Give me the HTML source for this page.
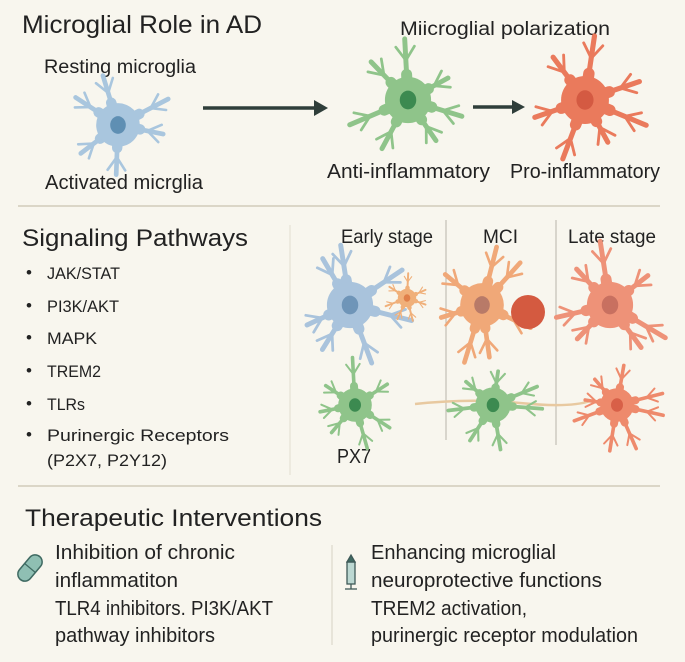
<!DOCTYPE html>
<html><head><meta charset="utf-8"><style>
html,body{margin:0;padding:0;background:#f8f6ee;}
svg{display:block}
text{font-family:"Liberation Sans",sans-serif;fill:#222;}
</style></head><body>
<svg id="s" width="685" height="662" viewBox="0 0 685 662" xmlns="http://www.w3.org/2000/svg">
<rect width="685" height="662" fill="#f8f6ee"/>
<text x="22" y="33" font-size="25" textLength="240" lengthAdjust="spacingAndGlyphs">Microglial Role in AD</text>
<text x="400" y="35" font-size="19" textLength="210" lengthAdjust="spacingAndGlyphs">Miicroglial polarization</text>
<text x="44" y="73" font-size="19" textLength="152" lengthAdjust="spacingAndGlyphs">Resting microglia</text>
<text x="45" y="189" font-size="20" textLength="158" lengthAdjust="spacingAndGlyphs">Activated micrglia</text>
<text x="327" y="178" font-size="20" textLength="163" lengthAdjust="spacingAndGlyphs">Anti-inflammatory</text>
<text x="510" y="178" font-size="20" textLength="150" lengthAdjust="spacingAndGlyphs">Pro-inflammatory</text>
<g stroke="#2f3e3a" stroke-width="3.5" fill="#2f3e3a">
<line x1="203" y1="108" x2="316" y2="108"/><polygon points="314,100 328,108 314,116" stroke="none"/>
<line x1="473" y1="107" x2="514" y2="107"/><polygon points="512,100 525,107 512,114" stroke="none"/>
</g>
<line x1="18" y1="206" x2="660" y2="206" stroke="#c9c2b0" stroke-width="1.2"/>
<text x="22" y="246" font-size="24" textLength="226" lengthAdjust="spacingAndGlyphs">Signaling Pathways</text>
<g font-size="17">
<text x="26" y="278">•</text><text x="47" y="279" textLength="73" lengthAdjust="spacingAndGlyphs">JAK/STAT</text>
<text x="26" y="311">•</text><text x="47" y="312" textLength="72" lengthAdjust="spacingAndGlyphs">PI3K/AKT</text>
<text x="26" y="343">•</text><text x="47" y="344" textLength="50" lengthAdjust="spacingAndGlyphs">MAPK</text>
<text x="26" y="376">•</text><text x="47" y="377" textLength="54" lengthAdjust="spacingAndGlyphs">TREM2</text>
<text x="26" y="409">•</text><text x="47" y="410" textLength="38" lengthAdjust="spacingAndGlyphs">TLRs</text>
<text x="26" y="440">•</text><text x="47" y="441" textLength="182" lengthAdjust="spacingAndGlyphs">Purinergic Receptors</text>
<text x="47" y="466" textLength="120" lengthAdjust="spacingAndGlyphs">(P2X7, P2Y12)</text>
</g>
<line x1="290" y1="225" x2="290" y2="475" stroke="#e2ddd0" stroke-width="1"/>
<line x1="446" y1="220" x2="446" y2="440" stroke="#b8b4aa" stroke-width="1"/>
<line x1="556" y1="220" x2="556" y2="445" stroke="#b8b4aa" stroke-width="1"/>
<text x="341" y="243" font-size="19" textLength="92" lengthAdjust="spacingAndGlyphs">Early stage</text>
<text x="483" y="243" font-size="19" textLength="35" lengthAdjust="spacingAndGlyphs">MCI</text>
<text x="568" y="243" font-size="19" textLength="88" lengthAdjust="spacingAndGlyphs">Late stage</text>
<path d="M415,404 Q470,398 520,403 T590,401" stroke="#e8c9a0" stroke-width="2.5" fill="none"/>
<text x="337" y="463" font-size="20" textLength="34" lengthAdjust="spacingAndGlyphs">PX7</text>
<line x1="18" y1="486" x2="660" y2="486" stroke="#c9c2b0" stroke-width="1.2"/>
<text x="25" y="526" font-size="24" textLength="297" lengthAdjust="spacingAndGlyphs">Therapeutic Interventions</text>
<g font-size="20">
<text x="55" y="559" textLength="180" lengthAdjust="spacingAndGlyphs">Inhibition of chronic</text>
<text x="55" y="587" textLength="123" lengthAdjust="spacingAndGlyphs">inflammatiton</text>
<text x="55" y="615" textLength="218" lengthAdjust="spacingAndGlyphs">TLR4 inhibitors. PI3K/AKT</text>
<text x="55" y="642" textLength="160" lengthAdjust="spacingAndGlyphs">pathway inhibitors</text>
<text x="371" y="559" textLength="185" lengthAdjust="spacingAndGlyphs">Enhancing microglial</text>
<text x="371" y="587" textLength="231" lengthAdjust="spacingAndGlyphs">neuroprotective functions</text>
<text x="371" y="615" textLength="156" lengthAdjust="spacingAndGlyphs">TREM2 activation,</text>
<text x="371" y="642" textLength="267" lengthAdjust="spacingAndGlyphs">purinergic receptor modulation</text>
</g>
<line x1="332" y1="545" x2="332" y2="645" stroke="#d6d1c4" stroke-width="1"/>
<g transform="translate(30,568) rotate(-50)">
<rect x="-15" y="-7" width="30" height="14" rx="7" fill="#8fbfb3" stroke="#3f6a62" stroke-width="1.5"/>
<line x1="0" y1="-7" x2="0" y2="7" stroke="#3f6a62" stroke-width="1.2"/>
</g>
<g stroke="#3f5a58" stroke-width="1.3" fill="#bcd8d2">
<rect x="347" y="562" width="8" height="22"/>
<path d="M347,562 L351,555 L355,562Z" fill="#3f6a62"/>
<line x1="351" y1="584" x2="351" y2="589"/>
<line x1="345" y1="589" x2="357" y2="589"/>
</g>
<g id="cells"></g>
</svg>
<script>
var g=document.getElementById('cells');
function rnd(seed){return function(){seed=(seed*9301+49297)%233280;return seed/233280;}}
function cell(cx,cy,r,fill,stroke,nuc,n,seed){
 var R=rnd(seed);var html='';
 for(var i=0;i<n;i++){var a=i/n*Math.PI*2+R()*0.6;var L=r*(0.8+R()*0.4);
  var x2=cx+Math.cos(a)*L,y2=cy+Math.sin(a)*L;
  html+='<path d="M'+cx+','+cy+' L'+x2.toFixed(1)+','+y2.toFixed(1)+'" stroke="'+fill+'" stroke-width="'+(r*0.09)+'" stroke-linecap="round"/>';
  var mx0=cx+Math.cos(a)*L*0.3,my0=cy+Math.sin(a)*L*0.3;
  html+='<path d="M'+cx+','+cy+' L'+((cx+mx0)/2+Math.cos(a)*r*0.3).toFixed(1)+','+((cy+my0)/2+Math.sin(a)*r*0.3).toFixed(1)+'" stroke="'+fill+'" stroke-width="'+(r*0.2)+'" stroke-linecap="round"/>';
  for(var k=-1;k<=1;k+=2){var b=a+k*0.6;var mx=cx+Math.cos(a)*L*0.65,my=cy+Math.sin(a)*L*0.65;var l2=r*0.3;
   html+='<path d="M'+mx.toFixed(1)+','+my.toFixed(1)+' L'+(mx+Math.cos(b)*l2).toFixed(1)+','+(my+Math.sin(b)*l2).toFixed(1)+'" stroke="'+fill+'" stroke-width="'+(r*0.05)+'" stroke-linecap="round"/>';}
 }
 html+='<circle cx="'+cx+'" cy="'+cy+'" r="'+(r*0.42)+'" fill="'+fill+'"/>';
 html+='<ellipse cx="'+cx+'" cy="'+cy+'" rx="'+(r*0.15)+'" ry="'+(r*0.17)+'" fill="'+nuc+'"/>';
 return html;}
var s='';
s+=cell(118,125,52,'#a9c6de','#5a86a8','#5f8fb3',6,3);
s+=cell(408,100,55,'#8fc48a','#4a8a4a','#3c8a50',7,7);
s+=cell(585,100,57,'#ea7a5c','#c04a30','#d45a42',7,11);
s+=cell(350,305,55,'#a9c3dc','#5a86a8','#6f95b8',7,5);
s+=cell(407,298,22,'#f0b07a','#d07a40','#e0804a',7,9);
s+=cell(482,305,52,'#f0a878','#d07a40','#b87a68',7,13);
s+='<circle cx="528" cy="312" r="17" fill="#d45a40"/>';
s+=cell(610,305,55,'#ee9278','#c05a40','#c87060',7,17);
s+=cell(355,405,40,'#8fc48a','#4a8a4a','#3c8a50',7,19);
s+=cell(493,405,42,'#8fc48a','#4a8a4a','#3c8a50',7,23);
s+=cell(617,405,40,'#ee8a6c','#c05a40','#d86048',8,29);
g.innerHTML=s;
</script>
</body></html>
